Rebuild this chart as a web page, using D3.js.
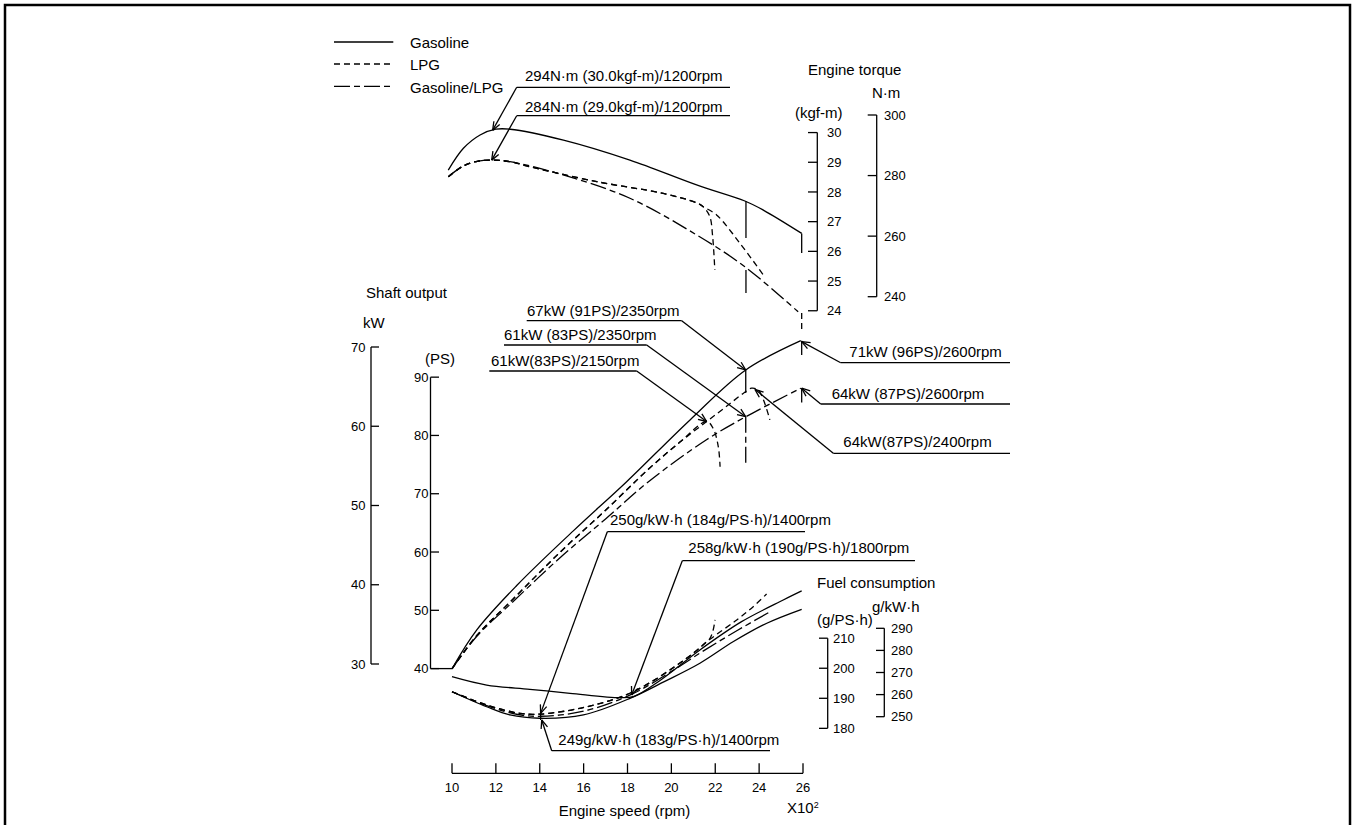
<!DOCTYPE html>
<html><head><meta charset="utf-8">
<script src="https://cdn.jsdelivr.net/npm/d3@7"></script>
<style>
body{margin:0;background:#fff;}
svg text{font-family:"Liberation Sans",Arial,Helvetica,sans-serif;fill:#000;}
</style></head><body>
<svg id="c" width="1354" height="825"></svg>
<script>
// ---------------- DATA ----------------
const rpmTicks = [10,12,14,16,18,20,22,24,26];          // x100 rpm
const torqueNmTicks = [240,260,280,300];
const torqueKgfTicks = [24,25,26,27,28,29,30];
const powerKwTicks = [30,40,50,60,70];
const powerPsTicks = [40,50,60,70,80,90];
const fuelKwhTicks = [250,260,270,280,290];
const fuelPshTicks = [180,190,200,210];

// Engine torque (N·m) vs engine speed (x100 rpm)
const torqueGasoline = [[9.83,281.8],[10.52,289.0],[11.28,293.4],[12.0,295.3],[12.65,295.3],[15.08,291.7],[18.11,285.1],[21.15,276.9],[23.35,271.6],[24.19,268.6],[25.94,260.9]];
const torqueGasLpg   = [[9.83,279.6],[10.52,283.2],[11.2,284.8],[11.88,285.1],[12.64,284.6],[15.07,280.2],[18.11,272.5],[21.15,260.4],[23.35,249.9],[25.78,235.0]];
const torqueLpgA     = [[9.83,279.6],[10.52,283.2],[11.2,284.8],[11.88,285.1],[12.64,284.6],[13.56,282.9],[16.6,278.0],[19.63,274.1],[21.15,271.0],[21.45,269.7],[21.75,266.5],[21.88,260.0],[21.98,248.8]];
const torqueLpgB     = [[9.83,279.6],[10.52,283.2],[11.2,284.8],[11.88,285.1],[12.64,284.6],[13.56,282.9],[16.6,278.0],[19.63,274.1],[21.15,271.0],[21.45,269.7],[22.06,267.0],[23.13,257.6],[24.19,247.2]];

// Shaft output (kW)
const powerGasoline = [[10,29.4],[11.13,34.3],[12.95,39.9],[15.53,46.8],[17.96,53.0],[20.85,60.8],[23.39,67.1],[25.9,70.8]];
const powerGasLpg   = [[10,29.4],[11.13,33.5],[12.64,37.5],[15.0,43.6],[17.0,48.3],[19.0,53.1],[21.6,58.3],[23.39,61.2],[25.9,64.8]];
const powerLpgA     = [[10,29.4],[11.13,33.6],[12.64,37.8],[15.0,44.3],[17.0,49.4],[19.0,54.7],[20.39,58.0],[21.61,60.6],[21.91,59.7],[22.14,57.4],[22.22,54.9]];
const powerLpgB     = [[10,29.4],[11.13,33.6],[12.64,37.8],[15.0,44.3],[17.0,49.4],[19.0,54.7],[20.39,58.0],[21.61,60.6],[22.6,62.7],[23.3,64.2],[23.65,64.8],[23.95,64.6],[24.2,63.3],[24.49,60.8]];

// Fuel consumption (g/kW·h)
const fuelGasolineA = [[10,268.1],[11.58,264.3],[13.55,262.4],[15.38,260.6],[17.66,258.6],[18.3,259.2],[19.5,266.5],[21.3,280.2],[23.2,293.0],[25.1,302.8],[25.94,306.9]];
const fuelGasolineB = [[10,261.3],[11.58,254.5],[12.64,250.8],[14.01,249.3],[15.99,250.8],[18.11,258.3],[19.7,266.0],[21.3,274.2],[22.83,284.0],[24.35,292.3],[25.94,298.6]];
const fuelGasLpg    = [[10,261.3],[11.58,255.0],[13.0,251.0],[14.04,250.2],[16.0,252.5],[18.2,260.2],[20.0,270.5],[21.5,280.0],[23.0,289.0],[24.5,297.5]];
const fuelLpgA      = [[10,261.3],[11.58,255.3],[13.1,251.5],[14.04,251.2],[16.15,254.5],[18.26,261.3],[20.69,276.4],[21.5,283.0],[21.76,285.5],[21.9,289.0],[21.99,293.8]];
const fuelLpgB      = [[10,261.3],[11.58,255.3],[13.1,251.5],[14.04,251.2],[16.15,254.5],[18.26,261.3],[20.69,276.4],[21.76,285.0],[22.98,293.8],[23.73,299.8],[24.34,305.5]];

// Vertical markers: [rpm, from, to, style]
const torqueMarks = [[23.4,271.6,259.4,'gas'],[25.94,260.9,254.4,'gas'],[23.4,248.8,241.2,'gas'],[25.94,234.6,229.0,'lpg']];
const powerMarks  = [[23.39,67.1,64.2,'gas'],[23.39,61.2,54.9,'gl'],[25.94,70.8,69.0,'gas'],[25.94,64.8,63.0,'gas']];
const fuelMarks   = [[14.04,252.3,248.5,'gas']];

// Annotations
const notes = [
 {t:"294N\u00B7m (30.0kgf-m)/1200rpm", p:'T', tip:[11.855,295.0], lx:525, ly:76,  u0:516.7, u1:730,  uy:87.3,  from:'L'},
 {t:"284N\u00B7m (29.0kgf-m)/1200rpm", p:'T', tip:[11.81,285.1], lx:525, ly:106.7, u0:516.7, u1:730, uy:115.7, from:'L'},
 {t:"67kW (91PS)/2350rpm", p:'P', tip:[23.39,67.1], lx:527, ly:311, u0:526.7, u1:681.7, uy:320.7, from:'R'},
 {t:"61kW (83PS)/2350rpm", p:'P', tip:[23.39,61.2], lx:504, ly:335, u0:504, u1:646.7, uy:345, from:'R'},
 {t:"61kW(83PS)/2150rpm", p:'P', tip:[21.61,60.6], lx:491, ly:360.7, u0:489.3, u1:636.7, uy:371, from:'R'},
 {t:"71kW (96PS)/2600rpm", p:'P', tip:[25.94,70.67], lx:849.3, ly:351.7, u0:840.7, u1:1010, uy:362.7, from:'L'},
 {t:"64kW (87PS)/2600rpm", p:'P', tip:[25.94,64.8], lx:831.7, ly:393.3, u0:820.7, u1:1010, uy:404, from:'L'},
 {t:"64kW(87PS)/2400rpm", p:'P', tip:[23.81,64.66], lx:843.3, ly:441.7, u0:833.3, u1:1010, uy:453.3, from:'L'},
 {t:"250g/kW\u00B7h (184g/PS\u00B7h)/1400rpm", p:'F', tip:[14.04,251.5], lx:610, ly:520, u0:607.3, u1:805, uy:531.7, from:'L'},
 {t:"258g/kW\u00B7h (190g/PS\u00B7h)/1800rpm", p:'F', tip:[18.19,259.8], lx:688.3, ly:547.3, u0:682.3, u1:915, uy:560.7, from:'L'},
 {t:"249g/kW\u00B7h (183g/PS\u00B7h)/1400rpm", p:'F', tip:[14.09,248.5], lx:558.3, ly:740, u0:551.7, u1:770, uy:750.7, from:'L'}
];

const legendItems = [["Gasoline",'gas'],["LPG",'lpg'],["Gasoline/LPG",'gl']];

// ---------------- DRAW ----------------
const svg = d3.select('#c');
const SW = 1.3;
const dashes = {gas:null, lpg:'6,4', gl:'16,4,6,4'};

svg.append('rect').attr('x',5).attr('y',5).attr('width',1345).attr('height',860)
  .attr('fill','none').attr('stroke','#000').attr('stroke-width',2.5);

const x  = d3.scaleLinear().domain([10,26]).range([452,803]);
const yT = d3.scaleLinear().domain([240,300]).range([296.7,115]);
const yP = d3.scaleLinear().domain([30,70]).range([664,347]);
const yF = d3.scaleLinear().domain([250,290]).range([716.7,628.3]);
const KGF = 9.80665, PS = 0.7355, GPS = 1/0.7355;

function txt(s, tx, ty, size, anchor){
  return svg.append('text').attr('x',tx).attr('y',ty).attr('dy','0.35em')
    .attr('font-size',size).attr('text-anchor',anchor||'start').text(s);
}
function seg(x1,y1,x2,y2,dash){
  return svg.append('line').attr('x1',x1).attr('y1',y1).attr('x2',x2).attr('y2',y2)
    .attr('stroke','#000').attr('stroke-width',SW).attr('stroke-dasharray',dash||null);
}

function curve(data, ys, style){
  const line = d3.line().x(d=>x(d[0])).y(d=>ys(d[1])).curve(d3.curveCatmullRom.alpha(0.5));
  svg.append('path').datum(data).attr('d',line).attr('fill','none')
    .attr('stroke','#000').attr('stroke-width',SW).attr('stroke-dasharray',dashes[style]);
}
curve(torqueGasoline,yT,'gas'); curve(torqueGasLpg,yT,'gl'); curve(torqueLpgA,yT,'lpg'); curve(torqueLpgB,yT,'lpg');
curve(powerGasoline,yP,'gas'); curve(powerGasLpg,yP,'gl'); curve(powerLpgA,yP,'lpg'); curve(powerLpgB,yP,'lpg');
curve(fuelGasolineA,yF,'gas'); curve(fuelGasolineB,yF,'gas'); curve(fuelGasLpg,yF,'gl'); curve(fuelLpgA,yF,'lpg'); curve(fuelLpgB,yF,'lpg');

function marks(arr, ys){ arr.forEach(m=>seg(x(m[0]),ys(m[1]),x(m[0]),ys(m[2]),dashes[m[3]])); }
marks(torqueMarks,yT); marks(powerMarks,yP); marks(fuelMarks,yF);

function vAxis(vals, ys, ax, tickTo){
  const ext = d3.extent(vals);
  seg(ax, ys(ext[0]), ax, ys(ext[1]));
  vals.forEach(v=>{ seg(ax, ys(v), tickTo, ys(v)); });
}
// torque
vAxis(torqueKgfTicks, v=>yT(v*KGF), 817.3, 808);
torqueKgfTicks.forEach(v=>txt(v, 827, yT(v*KGF), 13));
vAxis(torqueNmTicks, yT, 876.7, 867.7);
torqueNmTicks.forEach(v=>txt(v, 884, yT(v), 13));
txt("Engine torque", 808, 70, 15);
txt("N\u00B7m", 872, 92.7, 15);
txt("(kgf-m)", 795, 112.7, 15);
// power
vAxis(powerKwTicks, yP, 371, 379);
powerKwTicks.forEach(v=>txt(v, 365.5, yP(v), 13, 'end'));
vAxis(powerPsTicks, v=>yP(v*PS), 430.5, 439);
seg(430.5, yP(40*PS), x(10), yP(40*PS));
powerPsTicks.forEach(v=>txt(v, 428.5, yP(v*PS), 13, 'end'));
txt("Shaft output", 366, 293, 15);
txt("kW", 363, 323, 15);
txt("(PS)", 425, 359, 15);
// fuel
vAxis(fuelPshTicks, v=>yF(v*GPS), 827.7, 819);
fuelPshTicks.forEach(v=>txt(v, 833, yF(v*GPS), 13));
vAxis(fuelKwhTicks, yF, 884.3, 876);
fuelKwhTicks.forEach(v=>txt(v, 891, yF(v), 13));
txt("Fuel consumption", 817, 583, 15);
txt("g/kW\u00B7h", 872, 607, 15);
txt("(g/PS\u00B7h)", 817, 620, 15);

// x axis
const axY = 773.3;
seg(x(10), axY, x(26), axY);
rpmTicks.forEach(v=>{ seg(x(v), axY, x(v), axY-10); txt(v, x(v), 787, 13, 'middle'); });
txt("Engine speed (rpm)", 624.5, 811, 15, 'middle');
const xt = txt("X10", 787, 808, 15);
xt.append('tspan').attr('font-size',9).attr('dy','-0.6em').text("2");

// legend
legendItems.forEach((d,i)=>{
  const ly = [42,64,86.3][i];
  seg(334, ly, 393.3, ly, dashes[d[1]]);
  txt(d[0], 410, [42.3,65,87.3][i], 15);
});

// annotations
const panelY = {T:yT, P:yP, F:yF};
notes.forEach(n=>{
  const tx = x(n.tip[0]), ty = panelY[n.p](n.tip[1]);
  seg(n.u0, n.uy, n.u1, n.uy);
  const ox = n.from==='L' ? n.u0 : n.u1;
  seg(ox, n.uy, tx, ty);
  const ang = Math.atan2(n.uy-ty, ox-tx);
  [0.38,-0.38].forEach(a=>{
    seg(tx, ty, tx+9*Math.cos(ang+a), ty+9*Math.sin(ang+a));
  });
  txt(n.t, n.lx, n.ly, 15);
});
</script>
</body></html>
